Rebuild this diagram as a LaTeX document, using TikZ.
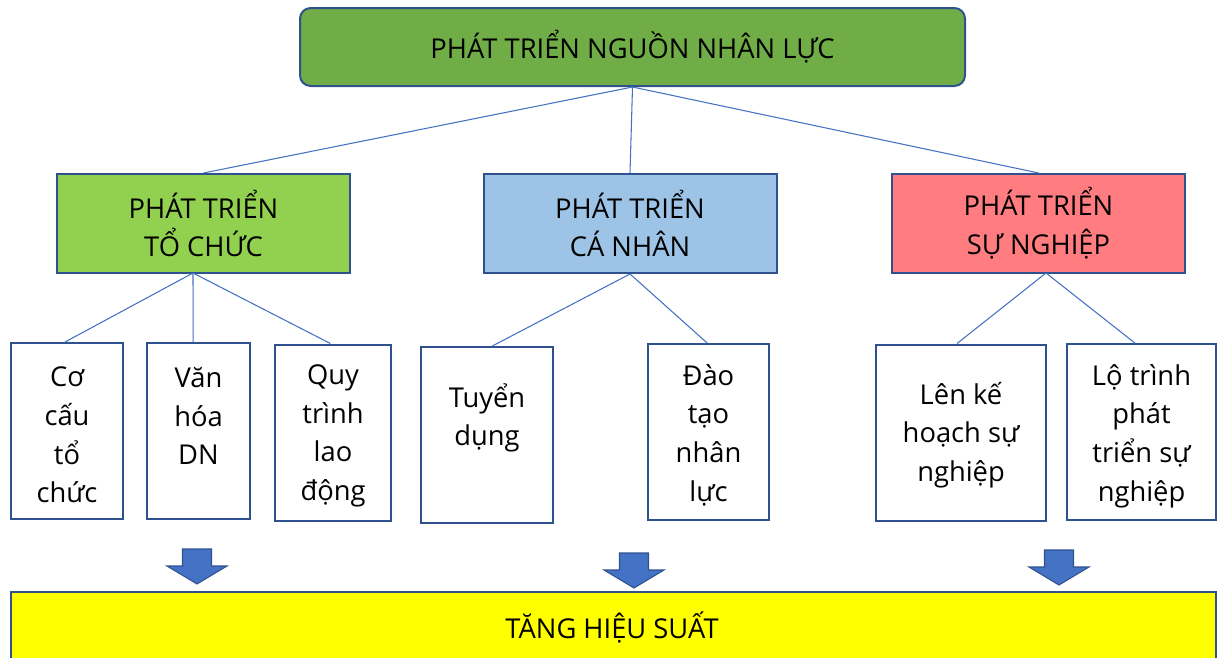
\documentclass[tikz,border=0pt]{standalone}
\usepackage{fontspec}
\setmainfont{Open Sans}
\usetikzlibrary{positioning}

\definecolor{edge}{HTML}{2F528F}
\definecolor{link}{HTML}{4472C4}
\definecolor{topgreen}{HTML}{70AD47}
\definecolor{leftgreen}{HTML}{92D050}
\definecolor{midblue}{HTML}{9DC3E6}
\definecolor{rightred}{HTML}{FF7C80}
\definecolor{resyellow}{HTML}{FFFF00}

\tikzset{
  box/.style={draw=edge, line width=1.5pt, inner sep=0pt, align=center},
  branch/.style={box, minimum width=219.75pt, minimum height=74.25pt, font=\fontsize{20.5}{29}\selectfont},
  leaf/.style={box, fill=white, minimum height=132pt},
  leaftxt/.style={align=center, inner sep=0pt, font=\fontsize{20.5}{29}\selectfont},
  wire/.style={draw=link, line width=0.8pt},
  downarrow/.style={fill=link, draw=edge, line width=0.8pt, line join=miter},
}

\begin{document}
\begin{tikzpicture}[x=0.75pt, y=-0.75pt]
\useasboundingbox (0,0) rectangle (1219,657);

% top box
\node[box, fill=topgreen, rounded corners=8pt, minimum width=498.75pt, minimum height=58.5pt,
  font=\fontsize{20.5}{24}\selectfont] (root) at (632.5,47) {PHÁT TRIỂN NGUỒN NHÂN LỰC};

% branches
\node[branch, fill=leftgreen] (org) at (203.5,223.5) {PHÁT TRIỂN\\TỔ CHỨC};
\node[branch, fill=midblue] (per) at (630,223.5) {PHÁT TRIỂN\\CÁ NHÂN};
\node[branch, fill=rightred] (car) at (1038.5,223.5) {PHÁT TRIỂN\\SỰ NGHIỆP};

\draw[wire] (root.south) -- (org.north);
\draw[wire] (root.south) -- (per.north);
\draw[wire] (root.south) -- (car.north);

% leaves
\node[leaf, minimum width=84pt] (b1) at (67,431) {};
\node[leaf, minimum width=77.25pt] (b2) at (198.5,431) {};
\node[leaf, minimum width=87pt] (b3) at (333,432.5) {};
\node[leaf, minimum width=99pt] (b4) at (487,435) {};
\node[leaf, minimum width=90.75pt] (b5) at (708.5,432) {};
\node[leaf, minimum width=127.5pt] (b6) at (961,432.5) {};
\node[leaf, minimum width=111.75pt] (b7) at (1141.5,432) {};

\node[leaftxt] (t1) at (67,435) {Cơ\\cấu\\tổ\\chức};
\node[leaftxt] (t2) at (198.5,416) {Văn\\hóa\\DN};
\node[leaftxt] (t3) at (333,436) {Quy\\trình\\lao\\động};
\node[leaftxt] (t4) at (487,418) {Tuyển\\dụng};
\node[leaftxt] (t5) at (708.5,435) {Đào\\tạo\\nhân\\lực};
\node[leaftxt] (t6) at (961,435) {Lên kế\\hoạch sự\\nghiệp};
\node[leaftxt] (t7) at (1141.5,436) {Lộ trình\\phát\\triển sự\\nghiệp};

% feet of the branch boxes
\coordinate (orgfoot) at (193,273);
\coordinate (carfoot) at (1046,273);

\draw[wire] (orgfoot) -- ([xshift=-1.5pt]b1.north);
\draw[wire] (orgfoot) -- ([xshift=-4pt]b2.north);
\draw[wire] (orgfoot) -- ([xshift=-2pt]b3.north);
\draw[wire] (per.south) -- ([xshift=4pt]b4.north);
\draw[wire] (per.south) -- ([xshift=-1pt]b5.north);
\draw[wire] (carfoot) -- ([xshift=-3pt]b6.north);
\draw[wire] (carfoot) -- ([xshift=-5pt]b7.north);

% result bar
\node[box, fill=resyellow, minimum width=903.75pt, minimum height=55pt, anchor=north west] (res) at (10,591) {};
\node[font=\fontsize{20.5}{24}\selectfont] (restxt) at (612,627) {TĂNG HIỆU SUẤT};

% block arrows
\foreach \ax/\ay in {197/549, 634/553, 1059/550}
  \draw[downarrow] (\ax-14.5,\ay) -- (\ax+14.5,\ay) -- (\ax+14.5,\ay+17) -- (\ax+30,\ay+17)
    -- (\ax,\ay+35) -- (\ax-30,\ay+17) -- (\ax-14.5,\ay+17) -- cycle;

\end{tikzpicture}
\end{document}
